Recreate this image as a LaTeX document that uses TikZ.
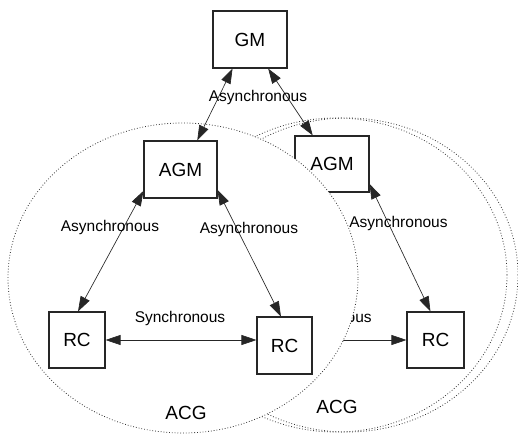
\documentclass[tikz,border=0pt]{standalone}
\usepackage{fontspec}
\setmainfont{Liberation Sans}
\usetikzlibrary{arrows.meta}

\begin{document}
\begin{tikzpicture}[x=1pt, y=-1pt,
	every node/.style={font=\fontsize{15.5}{17}\selectfont},
	unit/.style={draw=black!85, line width=1.1pt, fill=white, font=\fontsize{19}{21}\selectfont},
	group/.style={draw=black!80, line width=0.8pt, dash pattern=on 0.8pt off 2pt},
	link/.style={draw=black!85, line width=0.65pt, {Triangle[length=15pt,width=10pt]}-{Triangle[length=15pt,width=10pt]}}]
	\useasboundingbox (0,0) rectangle (518,435);
	% second ACG (behind)
	\draw[group] (347,275) ellipse [x radius=171pt, y radius=157pt];
	\draw[group] (336,275) ellipse [x radius=171pt, y radius=157pt];
	\node[unit, minimum width=74pt, minimum height=56pt] (agmB) at (332,164) {AGM};
	\node[unit, minimum width=57pt, minimum height=56pt] (rcB) at (435.5,340) {RC};
	\coordinate (rcBl) at (250,340);
	\draw[link] (agmB.-28) -- (rcB.100);
	\draw[link] (rcBl) -- (rcB.west |- rcBl);
	\node at (398.5,223) {Asynchronous};
	\node at (326.5,318) {Synchronous};
	\node[font=\fontsize{19}{21}\selectfont] (acgB) at (337,407) {ACG};
	% first ACG (front)
	\draw[group, fill=white] (183,278) ellipse [x radius=175pt, y radius=155pt];
	\node[unit, minimum width=73pt, minimum height=57pt] (agmA) at (180.5,169.5) {AGM};
	\node[unit, minimum width=56pt, minimum height=56pt] (rcA1) at (77,340) {RC};
	\node[unit, minimum width=55pt, minimum height=57pt] (rcA2) at (284.5,345.5) {RC};
	\draw[link] (agmA.210) -- (rcA1.88);
	\draw[link] (agmA.-29) -- (rcA2.97);
	\draw[link] (rcA1.east) -- (rcA1.east -| rcA2.west);
	\node at (110,227) {Asynchronous};
	\node at (249,229) {Asynchronous};
	\node at (180,318) {Synchronous};
	\node[font=\fontsize{19}{21}\selectfont] (acgA) at (186,413) {ACG};
	% global manager
	\node[unit, minimum width=74pt, minimum height=57pt] (gm) at (250,39.5) {GM};
	\draw[link] (gm.-121) -- (agmA.60);
	\draw[link] (gm.-58) -- (agmB.124);
	\node at (258,97) {Asynchronous};
\end{tikzpicture}
\end{document}
